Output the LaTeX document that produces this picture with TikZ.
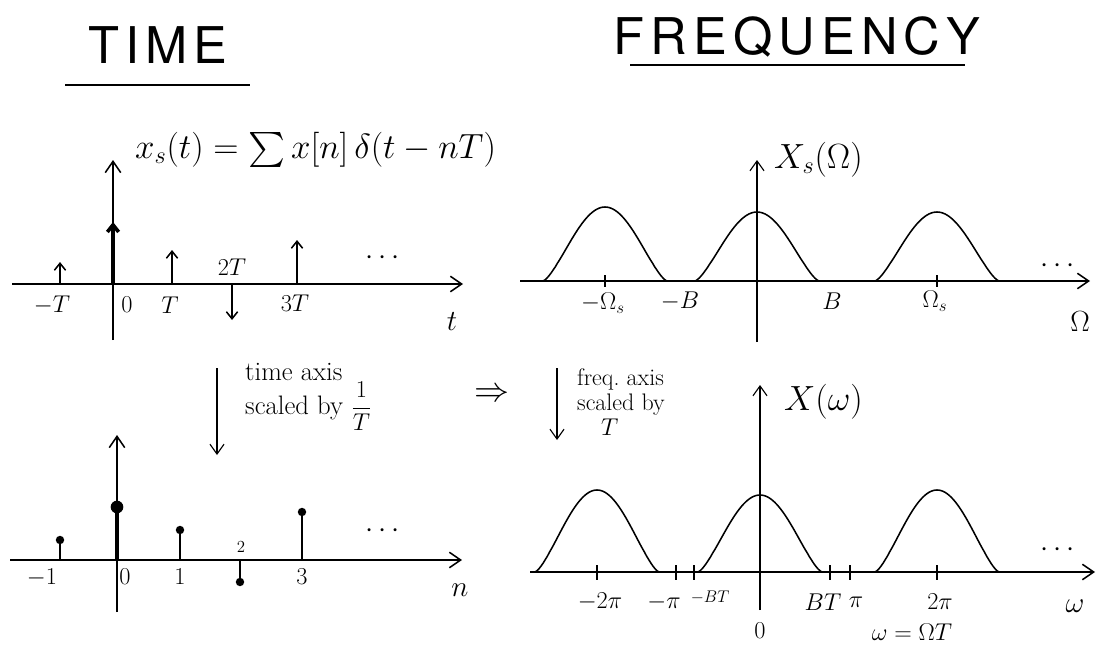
\documentclass[tikz,border=0pt]{standalone}
\usepackage{amsmath}
\usepackage{fontspec}
\usetikzlibrary{arrows.meta}
\newfontfamily\titlefont[LetterSpace=12]{TeX Gyre Heros}

\begin{document}
\begin{tikzpicture}[
  x=0.025cm, y=-0.025cm,
  line width=1.1pt,
  axis/.style={-{Straight Barb[length=8pt,width=11pt]}},
  imp/.style={-{Straight Barb[length=5pt,width=8pt]}},
  thin axis/.style={-{Straight Barb[length=7pt,width=10pt]}, line width=0.8pt},
  lbl/.style={font=\fontsize{17}{19}\selectfont, inner sep=1pt},
  small lbl/.style={font=\fontsize{12}{14}\selectfont, inner sep=1pt},
  title/.style={font=\fontsize{36}{40}\selectfont\titlefont},
  note/.style={font=\fontsize{19}{21}\selectfont, align=left, inner sep=1pt},
  big/.style={font=\fontsize{26}{30}\selectfont, inner sep=1pt, anchor=west},
  dot/.style={circle, fill, inner sep=0pt, minimum size=6pt}
]
\useasboundingbox (0,0) rectangle (1099,650);

% titles
\node[title] (time) at (158,45) {TIME};
\node[title] (freq) at (797,37) {FREQUENCY};
\draw (65,85) -- (250,85);
\draw (630,65) -- (965,65);

% ---- sampled signal x_s(t)
\coordinate (ts-w) at (12,284);  \coordinate (ts-e) at (463,284);
\coordinate (ts-s) at (113,340); \coordinate (ts-n) at (113,160);
\draw[axis] (ts-w) -- (ts-e);
\draw[axis] (ts-s) -- (ts-n);
\foreach \x/\y in {60/262, 172/250, 297/240}
  \draw[imp] (\x,284) -- (\x,\y);
\draw[imp, line width=2.6pt] (113,284) -- (113,222);
\draw[imp] (232,284) -- (232,320);
\node[big] (xs) at (133,150) {$x_s(t) = \sum x[n]\,\delta(t-nT)$};
\node[lbl] (ts-mT) at (52,305) {$-T$};
\node[lbl] (ts-0)  at (127,305) {$0$};
\node[lbl] (ts-T)  at (170,305) {$T$};
\node[lbl] (ts-2T) at (232,267) {$2T$};
\node[lbl] (ts-3T) at (295,303) {$3T$};
\node[lbl, font=\fontsize{22}{24}\selectfont] (ts-t) at (452,322) {$t$};
\node[lbl, font=\fontsize{20}{22}\selectfont] (ts-dots) at (385,258) {$\cdots$};

% ---- spectrum X_s(Omega)
\coordinate (fs-w) at (520,281);  \coordinate (fs-e) at (1090,281);
\coordinate (fs-s) at (757,342);  \coordinate (fs-n) at (757,160);
\draw[axis] (fs-w) -- (fs-e);
\draw[thin axis] (fs-s) -- (fs-n);
\foreach \c/\h in {605/74, 757/69, 937/69}
  \draw plot[domain=-1:1, samples=61, smooth]
    ({\c+62*\x}, {281-\h*((1+cos(180*\x))/2)^0.7});
\foreach \x in {605, 937}
  \draw[line width=0.8pt] (\x,275) -- (\x,287);
\node[big] (Xs) at (772,160) {$X_s(\Omega)$};
\node[lbl] (fs-mWs) at (603,303) {$-\Omega_s$};
\node[lbl] (fs-mB)  at (680,301) {$-B$};
\node[lbl] (fs-B)   at (832,301) {$B$};
\node[lbl] (fs-Ws)  at (935,301) {$\Omega_s$};
\node[lbl, font=\fontsize{22}{24}\selectfont] (fs-W) at (1080,322) {$\Omega$};
\node[lbl, font=\fontsize{20}{22}\selectfont] (fs-dots) at (1060,266) {$\cdots$};

% ---- scaling notes
\coordinate (ta-n) at (217,368); \coordinate (ta-s) at (217,455);
\draw[thin axis] (ta-n) -- (ta-s);
\node[note, anchor=west] (tnote) at (243,397) {time axis\\ scaled by $\dfrac{1}{T}$};
\node[lbl, font=\fontsize{24}{26}\selectfont] (impl) at (492,395) {$\Rightarrow$};
\coordinate (fa-n) at (557,368); \coordinate (fa-s) at (557,440);
\draw[thin axis] (fa-n) -- (fa-s);
\node[note, anchor=west, font=\fontsize{17}{18}\selectfont] (fnote) at (575,402) {freq.\ axis\\ scaled by\\ \hspace{1em}$T$};

% ---- discrete signal x[n]
\coordinate (dn-w) at (10,560);  \coordinate (dn-e) at (462,560);
\coordinate (dn-s) at (117,612); \coordinate (dn-n) at (117,435);
\draw[axis] (dn-w) -- (dn-e);
\draw[axis] (dn-s) -- (dn-n);
\foreach \x/\y in {60/540, 180/530, 240/582, 302/512}
  \draw (\x,560) -- (\x,\y) node[dot] {};
\draw[line width=2.6pt] (117,560) -- (117,507) node[dot, minimum size=9pt] {};
\node[lbl] (dn-m1) at (42,578) {$-1$};
\node[lbl] (dn-0)  at (125,577) {$0$};
\node[lbl] (dn-1)  at (180,577) {$1$};
\node[small lbl] (dn-2) at (241,547) {$2$};
\node[lbl] (dn-3)  at (302,577) {$3$};
\node[lbl, font=\fontsize{22}{24}\selectfont] (dn-n-lbl) at (460,590) {$n$};
\node[lbl, font=\fontsize{20}{22}\selectfont] (dn-dots) at (385,531) {$\cdots$};

% ---- DTFT X(omega)
\coordinate (dw-w) at (530,572);  \coordinate (dw-e) at (1095,572);
\coordinate (dw-s) at (760,610);  \coordinate (dw-n) at (760,385);
\draw[axis] (dw-w) -- (dw-e);
\draw[thin axis] (dw-s) -- (dw-n);
\foreach \c/\h in {597/82, 760/77, 937/82}
  \draw plot[domain=-1:1, samples=61, smooth]
    ({\c+62*\x}, {572-\h*((1+cos(180*\x))/2)^0.7});
\foreach \x in {597, 676, 694, 830, 850, 937}
  \draw[line width=0.8pt] (\x,565) -- (\x,580);
\node[big] (Xw) at (782,402) {$X(\omega)$};
\node[lbl] (dw-m2pi) at (600,602) {$-2\pi$};
\node[lbl] (dw-mpi)  at (664,602) {$-\pi$};
\node[small lbl] (dw-mBT) at (710,597) {$-BT$};
\node[lbl] (dw-BT)   at (823,602) {$BT$};
\node[lbl] (dw-pi)   at (856,602) {$\pi$};
\node[lbl] (dw-2pi)  at (940,602) {$2\pi$};
\node[lbl] (dw-0)    at (760,631) {$0$};
\node[lbl, font=\fontsize{22}{24}\selectfont] (dw-om) at (1075,606) {$\omega$};
\node[lbl, font=\fontsize{20}{22}\selectfont] (dw-dots) at (1060,550) {$\cdots$};
\node[lbl, font=\fontsize{18}{20}\selectfont] (rel) at (912,632) {$\omega = \Omega T$};
\end{tikzpicture}
\end{document}
